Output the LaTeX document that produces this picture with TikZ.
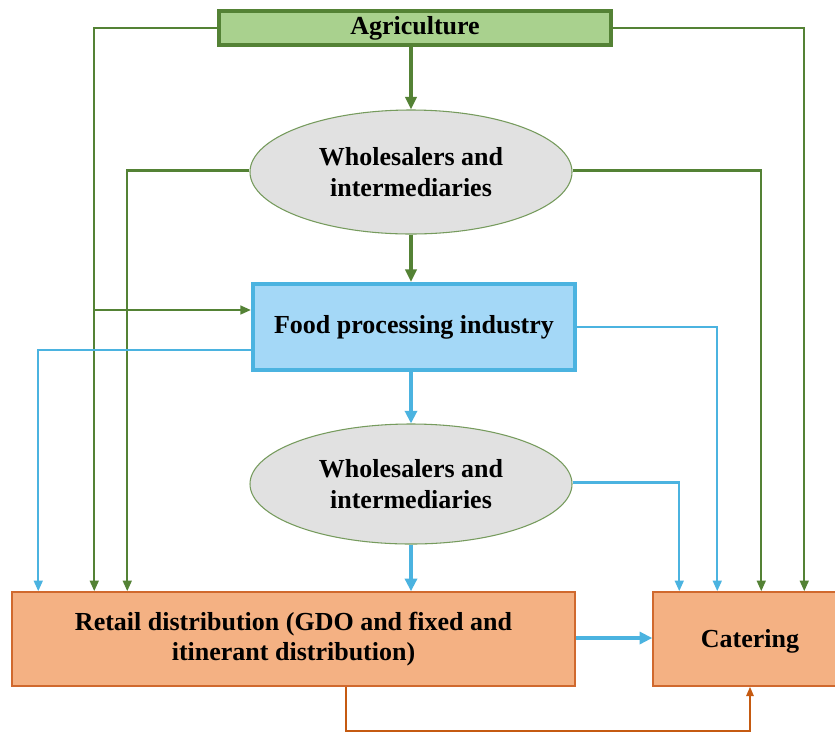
\documentclass[tikz,border=0pt]{standalone}
\usepackage{fontspec}
\setmainfont{Liberation Serif}
\usetikzlibrary{arrows.meta,shapes.geometric}
\definecolor{gdark}{HTML}{548235}
\definecolor{gfill}{HTML}{A9D18E}
\definecolor{bline}{HTML}{4BB3E0}
\definecolor{bfill}{HTML}{A4D8F7}
\definecolor{efill}{HTML}{E1E1E1}
\definecolor{ofill}{HTML}{F4B183}
\definecolor{oline}{HTML}{D0692E}
\definecolor{oarrow}{HTML}{C55A11}
\def\u{0.75pt}
\tikzset{
  lbl/.style={font=\fontsize{19.5}{23}\selectfont\bfseries, align=center, inner sep=0pt},
  agribox/.style={lbl, draw=gdark, fill=gfill, line width=2.4pt, rectangle},
  wellipse/.style={lbl, ellipse, draw=gdark!80, fill=efill, line width=0.8pt},
  foodbox/.style={lbl, draw=bline, fill=bfill, line width=3pt, rectangle},
  obox/.style={lbl, draw=oline, fill=ofill, line width=1.1pt, rectangle},
  gthin/.style={draw=gdark, line width=1.8pt, -{Triangle[length=8pt,width=6.5pt]}},
  gthick/.style={draw=gdark, line width=2.5pt, -{Triangle[length=9.5pt,width=8.5pt]}},
  bthin/.style={draw=bline, line width=1.8pt, -{Triangle[length=8pt,width=6.5pt]}},
  bthick/.style={draw=bline, line width=2.8pt, -{Triangle[length=9.5pt,width=9pt]}},
  othin/.style={draw=oarrow, line width=1.4pt, -{Triangle[length=7pt,width=5.5pt]}},
}
\begin{document}
\begin{tikzpicture}[x=0.75pt,y=-0.75pt]
\useasboundingbox (0,0) rectangle (835,733);
\clip (0,0) rectangle (835,733);
\fill[white] (0,0) rectangle (835,733);

\node[agribox, minimum width=392*\u, minimum height=34*\u] (agri) at (415,28) {Agriculture};
\node[wellipse, minimum width=322*\u, minimum height=124*\u] (w1) at (411,172) {Wholesalers and\\intermediaries};
\node[foodbox, minimum width=322*\u, minimum height=86*\u] (food) at (414,327) {Food processing industry};
\node[wellipse, minimum width=322*\u, minimum height=120*\u] (w2) at (411,484) {Wholesalers and\\intermediaries};
\node[obox, minimum width=563*\u, minimum height=94*\u] (retail) at (293.5,639) {Retail distribution (GDO and fixed and\\itinerant distribution)};
\node[obox, minimum width=200*\u, minimum height=94*\u] (cater) at (753,639) {};
\node[lbl] (catertxt) at (750,641) {Catering};

% green connectors
\draw[gthin] (agri.west) -| ([xshift=83*\u]retail.north west);
\draw[gthin] (agri.east) -| ([xshift=152*\u]cater.north west);
\draw[gthick] (agri.south -| w1.north) -- (w1.north);
\draw[gthin] ([yshift=1.5*\u]w1.west) -| ([xshift=116*\u]retail.north west);
\draw[gthin] ([yshift=1.5*\u]w1.east) -| ([xshift=109*\u]cater.north west);
\draw[gthick] (w1.south) -- (w1.south |- food.north);
\coordinate (j1) at (95,310);
\draw[gthin] (j1) -- (j1 -| food.west);

% blue connectors
\draw[bthin] ([yshift=-23*\u]food.west) -| ([xshift=27*\u]retail.north west);
\draw[bthin] (food.east) -| ([xshift=65*\u]cater.north west);
\draw[bthick] (food.south -| w2.north) -- (w2.north);
\draw[bthin] ([yshift=1.5*\u]w2.east) -| ([xshift=27*\u]cater.north west);
\draw[bthick] (w2.south) -- (w2.south |- retail.north);
\draw[bthick] ([yshift=1*\u]retail.east) -- ([yshift=1*\u]retail.east -| cater.west);

% orange connector
\coordinate (ob0) at ([xshift=335*\u]retail.south west);
\coordinate (ob2) at (750,731);
\draw[othin] (ob0) |- (ob2) -- (ob2 |- cater.south);
\end{tikzpicture}
\end{document}
